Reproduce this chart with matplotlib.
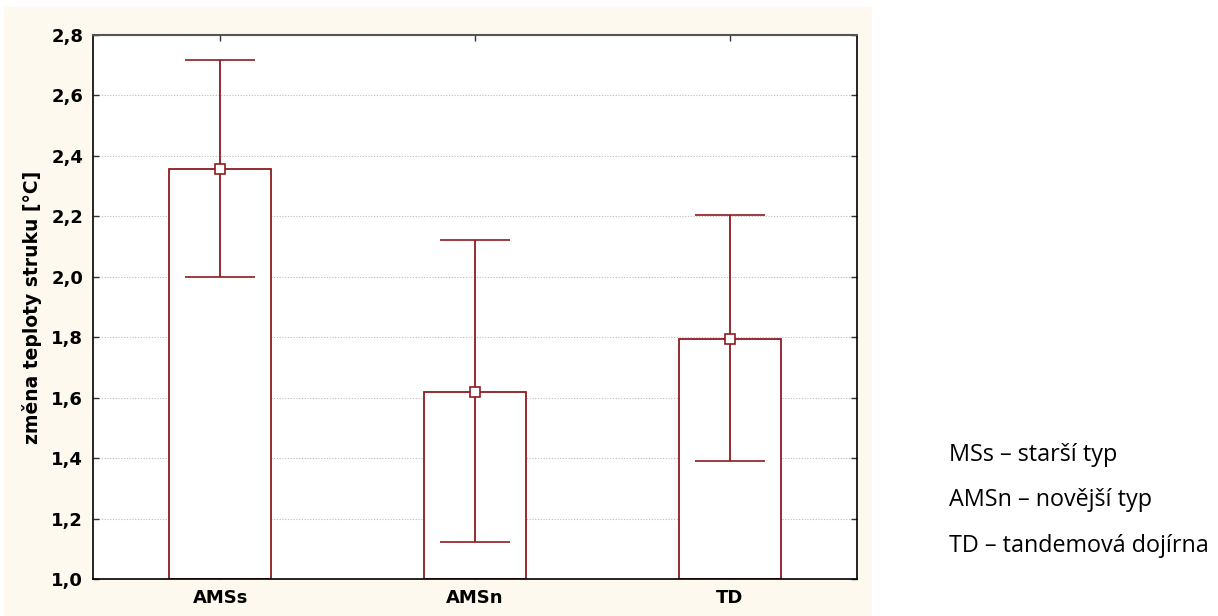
import matplotlib
matplotlib.use("Agg")
import matplotlib.pyplot as plt
from matplotlib.patches import Rectangle

categories = ["AMSs", "AMSn", "TD"]
means = [2.355, 1.62, 1.795]
lower = [1.998, 1.122, 1.392]
upper = [2.717, 2.121, 2.205]
yticks = [1.0, 1.2, 1.4, 1.6, 1.8, 2.0, 2.2, 2.4, 2.6, 2.8]
notes = ["MSs – starší typ", "AMSn – novější typ", "TD – tandemová dojírna"]

red = "#8E1B20"
W, H = 1218, 616
fig = plt.figure(figsize=(W / 100, H / 100), dpi=100)
fig.patches.append(Rectangle((4 / W, 0), (872 - 4) / W, (616 - 7) / H,
                             transform=fig.transFigure, facecolor="#FEF9EE",
                             edgecolor="none", zorder=-10))

ax = fig.add_axes([93 / W, 1 - 579 / H, (857 - 93) / W, (579 - 35) / H])
x = list(range(len(categories)))
ax.bar(x, [m - 1.0 for m in means], bottom=1.0, width=0.4, facecolor="white",
       edgecolor=red, linewidth=1.3, zorder=2)
yerr = [[m - l for m, l in zip(means, lower)], [u - m for m, u in zip(means, upper)]]
ax.errorbar(x, means, yerr=yerr, fmt="s", color=red, ecolor=red, elinewidth=1.3,
            capsize=25, capthick=1.3, markersize=7, markerfacecolor="white",
            markeredgecolor=red, markeredgewidth=1.2, zorder=3)

ax.set_xlim(-0.5, 2.5)
ax.set_ylim(1.0, 2.8)
ax.set_yticks(yticks)
ax.set_yticklabels([f"{t:.1f}".replace(".", ",") for t in yticks])
ax.set_xticks(x)
ax.set_xticklabels(categories)
for lab in ax.get_xticklabels() + ax.get_yticklabels():
    lab.set_fontfamily("DejaVu Sans")
    lab.set_fontweight("bold")
    lab.set_fontsize(13)
ax.tick_params(axis="both", direction="in", length=4, width=1, top=True, right=True, color="#333333")
ax.tick_params(axis="y", pad=7)
ax.tick_params(axis="x", pad=7)
ax.yaxis.grid(True, linestyle=(0, (1, 1.5)), color="#BBBBBB", linewidth=0.8, zorder=0)
ax.set_axisbelow(True)
for s in ["left", "bottom", "right"]:
    ax.spines[s].set_color("black")
    ax.spines[s].set_linewidth(1.2)
ax.spines["top"].set_color("#555555")
ax.spines["top"].set_linewidth(1.5)
ax.set_ylabel("změna teploty struku [°C]", fontfamily="DejaVu Sans", fontweight="bold",
              fontsize=13.5, labelpad=7)

for i, t in enumerate(notes):
    fig.text(949 / W, 1 - (461 + i * 45.5) / H, t, fontfamily="Open Sans", fontsize=16.8,
             ha="left", va="baseline", color="black")

fig.savefig("out.png", dpi=100)
